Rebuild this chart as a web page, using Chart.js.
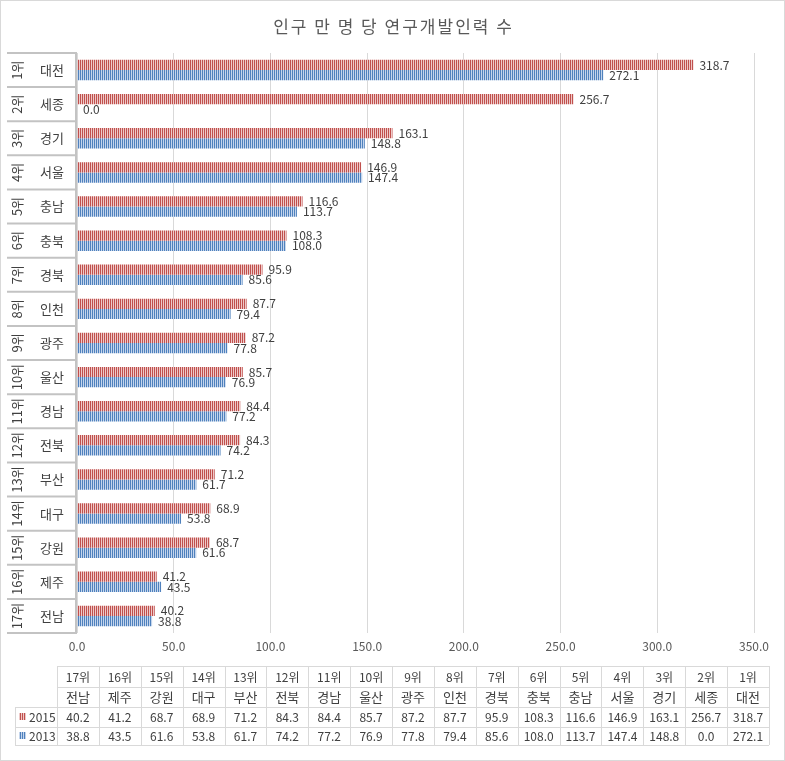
<!DOCTYPE html>
<html>
<head>
<meta charset="utf-8">
<script src="https://cdn.jsdelivr.net/npm/chart.js@4"></script>
<style>
  body { margin: 0; background: #fff; }
  canvas { display: block; }
</style>
</head>
<body>
<canvas id="chart" width="785" height="761"></canvas>
<script>
const ranks = ["1위", "2위", "3위", "4위", "5위", "6위", "7위", "8위", "9위", "10위", "11위", "12위", "13위", "14위", "15위", "16위", "17위"];
const regions = ["대전", "세종", "경기", "서울", "충남", "충북", "경북", "인천", "광주", "울산", "경남", "전북", "부산", "대구", "강원", "제주", "전남"];
const values2015 = [318.7, 256.7, 163.1, 146.9, 116.6, 108.3, 95.9, 87.7, 87.2, 85.7, 84.4, 84.3, 71.2, 68.9, 68.7, 41.2, 40.2];
const values2013 = [272.1, 0.0, 148.8, 147.4, 113.7, 108.0, 85.6, 79.4, 77.8, 76.9, 77.2, 74.2, 61.7, 53.8, 61.6, 43.5, 38.8];
const seriesNames = ["2015", "2013"];
const titleText = "인구 만 명 당 연구개발인력 수";
const xMin = 0, xMax = 350, xStep = 50;

const FONT = "'Noto Sans CJK KR', 'Noto Sans', sans-serif";
const TEXT = "#404040";

// vertical stripe fill, like excel's "light vertical" pattern
function stripes(dark, light) {
  const c = document.createElement("canvas");
  c.width = 2; c.height = 4;
  const g = c.getContext("2d");
  g.fillStyle = dark; g.fillRect(0, 0, 1, 4);
  g.fillStyle = light; g.fillRect(1, 0, 1, 4);
  return g.createPattern(c, "repeat");
}
const redFill = stripes("#c0504d", "#eec9c8");
const blueFill = stripes("#4f81bd", "#c4d5ec");

const labelsPlugin = {
  id: "barLabels",
  afterDatasetsDraw(chart) {
    const ctx = chart.ctx;
    ctx.save();
    ctx.font = "12px " + FONT;
    ctx.fillStyle = TEXT;
    ctx.textAlign = "left";
    ctx.textBaseline = "middle";
    chart.data.datasets.forEach((ds, di) => {
      chart.getDatasetMeta(di).data.forEach((bar, i) => {
        ctx.fillText(ds.data[i].toFixed(1), bar.x + 6, bar.y);
      });
    });
    ctx.restore();
  }
};

const framePlugin = {
  id: "frame",
  afterDraw(chart) {
    const ctx = chart.ctx;
    const area = chart.chartArea;
    const yScale = chart.scales.y;
    ctx.save();

    // title
    ctx.fillStyle = "#595959";
    ctx.font = "17px " + FONT;
    ctx.letterSpacing = "2px";
    ctx.textAlign = "center";
    ctx.textBaseline = "middle";
    ctx.fillText(titleText, chart.width / 2 + 1, 27);
    ctx.letterSpacing = "0px";

    // category axis boxes on the left
    ctx.strokeStyle = "#c3c3c3";
    ctx.lineWidth = 2;
    const rowH = (area.bottom - area.top) / regions.length;
    for (let i = 0; i <= regions.length; i++) {
      const y = area.top + i * rowH;
      ctx.beginPath();
      ctx.moveTo(7, y);
      ctx.lineTo(area.left, y);
      ctx.stroke();
    }
    ctx.beginPath();
    ctx.moveTo(area.left - 1, area.top - 1);
    ctx.lineTo(area.left - 1, area.bottom + 1);
    ctx.stroke();

    ctx.fillStyle = TEXT;
    ctx.font = "13px " + FONT;
    ctx.textBaseline = "middle";
    ctx.textAlign = "center";
    regions.forEach((name, i) => {
      const y = yScale.getPixelForValue(i);
      ctx.fillText(name, 52, y);
      ctx.save();
      ctx.translate(17, y);
      ctx.rotate(-Math.PI / 2);
      ctx.fillText(ranks[i], 0, 0);
      ctx.restore();
    });

    // data table
    const tLeft = 57, tRight = 769, legLeft = 15;
    const rowsY = [666, 687, 707, 727, 745];
    const colW = (tRight - tLeft) / regions.length;
    ctx.strokeStyle = "#d9d9d9";
    ctx.lineWidth = 1;
    ctx.beginPath();
    rowsY.forEach((y, r) => {
      ctx.moveTo(r >= 2 ? legLeft : tLeft, y + 0.5);
      ctx.lineTo(tRight, y + 0.5);
    });
    for (let c = 0; c <= regions.length; c++) {
      const x = Math.round(tLeft + c * colW) + 0.5;
      ctx.moveTo(x, rowsY[0]);
      ctx.lineTo(x, rowsY[4]);
    }
    ctx.moveTo(legLeft + 0.5, rowsY[2]);
    ctx.lineTo(legLeft + 0.5, rowsY[4]);
    ctx.stroke();

    const n = regions.length;
    for (let c = 0; c < n; c++) {
      const i = n - 1 - c;
      const cx = tLeft + (c + 0.5) * colW;
      ctx.font = "12px " + FONT;
      ctx.fillText(ranks[i], cx, (rowsY[0] + rowsY[1]) / 2 + 1);
      ctx.font = "13px " + FONT;
      ctx.fillText(regions[i], cx, (rowsY[1] + rowsY[2]) / 2);
      ctx.font = "12px " + FONT;
      ctx.fillText(values2015[i].toFixed(1), cx, (rowsY[2] + rowsY[3]) / 2);
      ctx.fillText(values2013[i].toFixed(1), cx, (rowsY[3] + rowsY[4]) / 2);
    }

    // legend keys inside the table
    const fills = [redFill, blueFill];
    ctx.textAlign = "left";
    seriesNames.forEach((s, k) => {
      const cy = (rowsY[2 + k] + rowsY[3 + k]) / 2;
      ctx.fillStyle = fills[k];
      ctx.fillRect(19, cy - 4, 7, 7);
      ctx.fillStyle = TEXT;
      ctx.fillText(s, 29, cy);
    });

    // outer border
    ctx.strokeStyle = "#d9d9d9";
    ctx.strokeRect(0.5, 0.5, chart.width - 1, chart.height - 1);
    ctx.restore();
  }
};

new Chart(document.getElementById("chart"), {
  type: "bar",
  data: {
    labels: regions,
    datasets: [
      { label: seriesNames[0], data: values2015, backgroundColor: redFill },
      { label: seriesNames[1], data: values2013, backgroundColor: blueFill }
    ]
  },
  options: {
    indexAxis: "y",
    responsive: false,
    animation: false,
    categoryPercentage: 0.6,
    barPercentage: 1,
    layout: { padding: { left: 77, right: 31, top: 53, bottom: 0 } },
    scales: {
      x: {
        min: xMin,
        max: xMax,
        afterFit(scale) { scale.height = 128; },
        ticks: {
          stepSize: xStep,
          padding: 6,
          color: "#595959",
          font: { size: 12, family: FONT },
          callback: (v) => Number(v).toFixed(1)
        },
        grid: { color: "#d9d9d9", drawTicks: false },
        border: { display: false }
      },
      y: { display: false }
    },
    plugins: {
      legend: { display: false },
      tooltip: { enabled: false },
      title: { display: false }
    }
  },
  plugins: [labelsPlugin, framePlugin]
});
</script>
</body>
</html>
